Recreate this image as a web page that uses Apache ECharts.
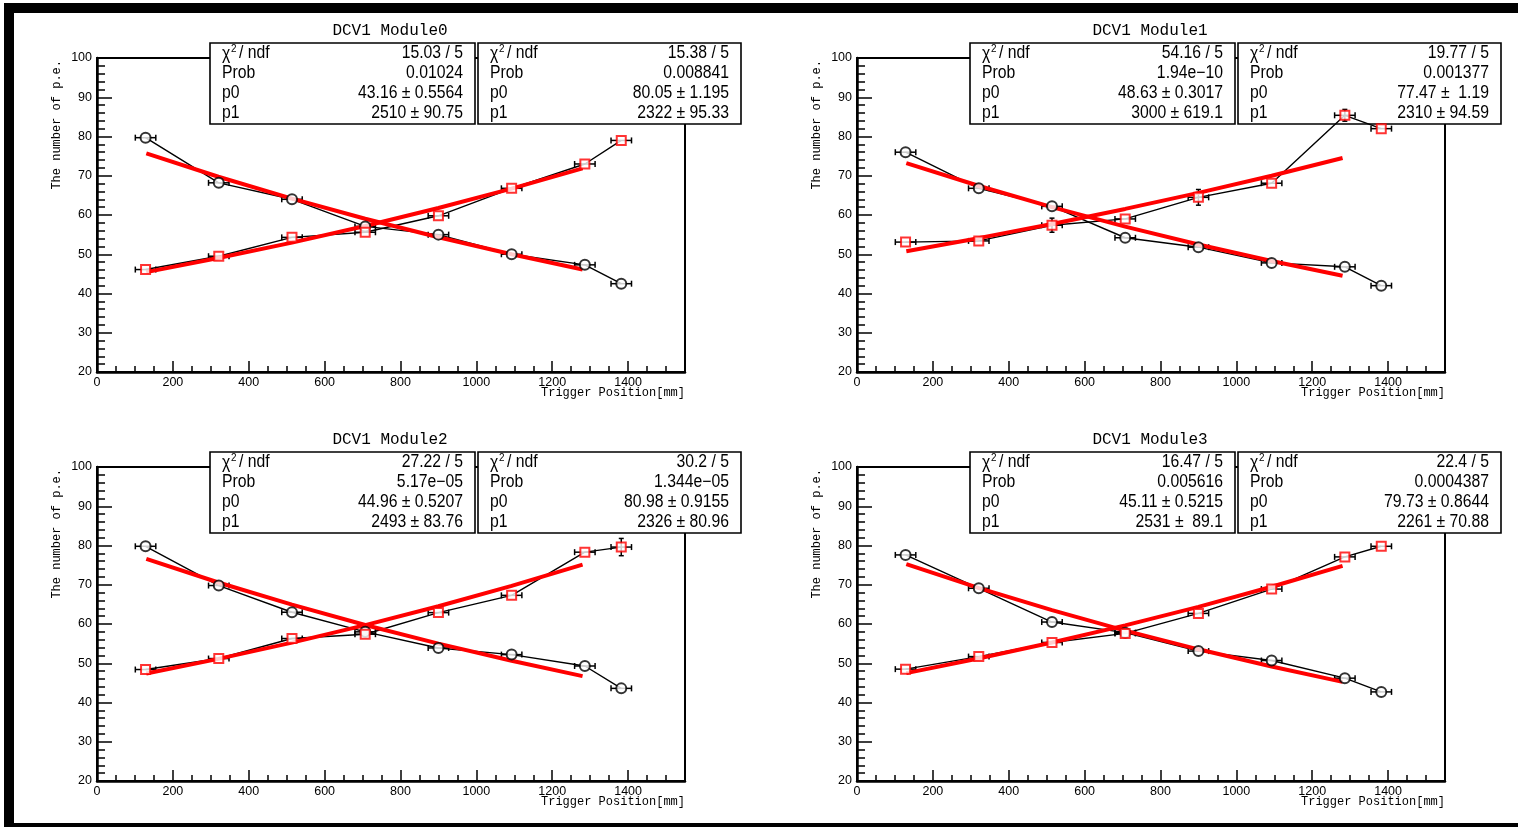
<!DOCTYPE html>
<html><head><meta charset="utf-8">
<script src="https://cdn.jsdelivr.net/npm/echarts@6/dist/echarts.min.js"></script>
<style>html,body{margin:0;padding:0;background:#fff}#c{width:1518px;height:827px}</style>
</head><body><div id="c"></div>
<script>
// ---- data ----
const titles = ['DCV1 Module0', 'DCV1 Module1', 'DCV1 Module2', 'DCV1 Module3'];
const xTitle = 'Trigger Position[mm]';
const yTitle = 'The number of p.e.';
const xPos = [128, 321, 514, 707, 900, 1093, 1286, 1382];
const xErr = [27, 27, 27, 27, 27, 27, 27, 27];
const fitX = [130, 320, 514, 707, 900, 1093, 1280];

const circ0 = [79.7, 68.2, 64.0, 57.1, 55.0, 50.0, 47.3, 42.5];
const circErr0 = [0.6, 0.6, 0.6, 0.7, 0.6, 0.5, 0.6, 0.5];
const sq0 = [46.1, 49.5, 54.3, 55.6, 59.8, 66.8, 73.0, 79.0];
const sqErr0 = [0.5, 0.5, 0.6, 0.6, 0.7, 0.7, 0.8, 0.8];
const fitInc0 = [45.45, 49.03, 52.97, 57.20, 61.77, 66.71, 71.87];
const fitDec0 = [75.69, 69.74, 64.16, 59.04, 54.33, 50.00, 46.13];

const circ1 = [76.0, 66.8, 62.2, 54.2, 51.8, 47.8, 46.8, 42.0];
const circErr1 = [0.6, 0.6, 0.9, 0.6, 0.6, 0.5, 0.6, 0.5];
const sq1 = [53.1, 53.4, 57.4, 59.0, 64.5, 68.1, 85.4, 82.0];
const sqErr1 = [0.5, 0.5, 1.8, 0.6, 2.0, 0.8, 1.5, 0.7];
const fitInc1 = [50.78, 54.10, 57.72, 61.55, 65.64, 70.00, 74.51];
const fitDec1 = [73.23, 67.45, 62.02, 57.04, 52.47, 48.27, 44.51];

const circ2 = [79.8, 69.8, 63.0, 58.0, 53.9, 52.2, 49.3, 43.6];
const circErr2 = [0.6, 0.6, 0.6, 0.8, 0.6, 0.6, 0.6, 0.5];
const sq2 = [48.4, 51.2, 56.3, 57.4, 62.9, 67.3, 78.3, 79.6];
const sqErr2 = [0.5, 0.5, 0.6, 0.7, 0.7, 0.8, 0.8, 2.2];
const fitInc2 = [47.37, 51.12, 55.25, 59.70, 64.51, 69.70, 75.13];
const fitDec2 = [76.58, 70.57, 64.92, 59.75, 55.00, 50.62, 46.71];

const circ3 = [77.6, 69.1, 60.5, 57.8, 53.1, 50.7, 46.2, 42.7];
const circErr3 = [0.6, 0.6, 0.6, 0.7, 0.6, 0.6, 0.6, 0.5];
const sq3 = [48.5, 51.7, 55.3, 57.6, 62.7, 68.9, 77.1, 79.8];
const sqErr3 = [0.5, 0.5, 0.6, 0.7, 0.7, 0.8, 0.8, 0.7];
const fitInc3 = [47.49, 51.19, 55.27, 59.65, 64.37, 69.48, 74.80];
const fitDec3 = [75.28, 69.21, 63.52, 58.32, 53.55, 49.17, 45.26];

const statLabels = ['Prob', 'p0', 'p1'];
const stats0a = ['15.03 / 5', '0.01024', '43.16 \u00b1 0.5564', '2510 \u00b1 90.75'];
const stats0b = ['15.38 / 5', '0.008841', '80.05 \u00b1 1.195', '2322 \u00b1 95.33'];
const stats1a = ['54.16 / 5', '1.94e\u221210', '48.63 \u00b1 0.3017', '3000 \u00b1 619.1'];
const stats1b = ['19.77 / 5', '0.001377', '77.47 \u00b1  1.19', '2310 \u00b1 94.59'];
const stats2a = ['27.22 / 5', '5.17e\u221205', '44.96 \u00b1 0.5207', '2493 \u00b1 83.76'];
const stats2b = ['30.2 / 5', '1.344e\u221205', '80.98 \u00b1 0.9155', '2326 \u00b1 80.96'];
const stats3a = ['16.47 / 5', '0.005616', '45.11 \u00b1 0.5215', '2531 \u00b1  89.1'];
const stats3b = ['22.4 / 5', '0.0004387', '79.73 \u00b1 0.8644', '2261 \u00b1 70.88'];

const xMin = 0, xMax = 1550, xStep = 200;
const yMin = 20, yMax = 100, yStep = 10;

// ---- build ----
const panels = [
  {title: titles[0], circ: circ0, circErr: circErr0, sq: sq0, sqErr: sqErr0, inc: fitInc0, dec: fitDec0, sa: stats0a, sb: stats0b},
  {title: titles[1], circ: circ1, circErr: circErr1, sq: sq1, sqErr: sqErr1, inc: fitInc1, dec: fitDec1, sa: stats1a, sb: stats1b},
  {title: titles[2], circ: circ2, circErr: circErr2, sq: sq2, sqErr: sqErr2, inc: fitInc2, dec: fitDec2, sa: stats2a, sb: stats2b},
  {title: titles[3], circ: circ3, circErr: circErr3, sq: sq3, sqErr: sqErr3, inc: fitInc3, dec: fitDec3, sa: stats3a, sb: stats3b}
];
const pos = [[97, 58], [857, 58], [97, 467], [857, 467]];
const PW = 588, PH = 314;
const SANS = "'Liberation Sans', Arial, sans-serif";
const MONO = "'Liberation Mono', 'Courier New', monospace";

function errRender(params, api) {
  const x = api.value(0), y = api.value(1), ex = api.value(2), ey = api.value(3);
  const L = api.coord([x - ex, y]), R = api.coord([x + ex, y]);
  const T = api.coord([x, y + ey]), B = api.coord([x, y - ey]);
  const st = {stroke: '#000', lineWidth: 1.5};
  const ch = [
    {type: 'line', shape: {x1: L[0], y1: L[1], x2: R[0], y2: R[1]}, style: st},
    {type: 'line', shape: {x1: L[0], y1: L[1] - 3, x2: L[0], y2: L[1] + 3}, style: st},
    {type: 'line', shape: {x1: R[0], y1: R[1] - 3, x2: R[0], y2: R[1] + 3}, style: st}
  ];
  if (B[1] - T[1] > 10) {
    ch.push({type: 'line', shape: {x1: T[0], y1: T[1], x2: B[0], y2: B[1]}, style: st});
    ch.push({type: 'line', shape: {x1: T[0] - 2.5, y1: T[1], x2: T[0] + 2.5, y2: T[1]}, style: st});
    ch.push({type: 'line', shape: {x1: B[0] - 2.5, y1: B[1], x2: B[0] + 2.5, y2: B[1]}, style: st});
  }
  return {type: 'group', children: ch};
}

const grids = [], xAxes = [], yAxes = [], series = [], graphics = [];

// black frame bands of the screenshot
graphics.push({type: 'rect', shape: {x: 4, y: 3, width: 1514, height: 10}, style: {fill: '#000'}, z: 100});
graphics.push({type: 'rect', shape: {x: 4, y: 3, width: 10, height: 824}, style: {fill: '#000'}, z: 100});
graphics.push({type: 'rect', shape: {x: 4, y: 823, width: 1514, height: 4}, style: {fill: '#000'}, z: 100});

function statBox(left, top, w, vals) {
  const h = 81;
  const ch = [{type: 'rect', shape: {x: 0, y: 0, width: w, height: h}, style: {fill: '#fff', stroke: '#000', lineWidth: 1.6}}];
  const rowY = [10.5, 30.5, 50.5, 70.5];
  const txt = (x, y, s, align, size) => ({type: 'text', x: x, y: y, scaleX: 0.9,
    style: {text: s, x: 0, y: 0, fill: '#000', font: (size || 17.5) + 'px ' + SANS, align: align, verticalAlign: 'middle'}});
  ch.push(txt(12, rowY[0] + 1, '\u03c7', 'left'));
  ch.push(txt(21, rowY[0] - 5, '2', 'left', 11));
  ch.push(txt(29, rowY[0], '/ ndf', 'left'));
  for (let i = 0; i < 3; i++) ch.push(txt(12, rowY[i + 1], statLabels[i], 'left'));
  for (let i = 0; i < 4; i++) ch.push(txt(w - 12, rowY[i], vals[i], 'right'));
  return {type: 'group', x: left, y: top, z: 50, children: ch};
}

panels.forEach((p, i) => {
  const [l, t] = pos[i];
  grids.push({left: l, top: t, width: PW, height: PH, show: true, borderColor: '#000', borderWidth: 2, backgroundColor: 'rgba(0,0,0,0)'});
  xAxes.push({gridIndex: i, type: 'value', min: xMin, max: xMax, interval: xStep,
    axisLine: {show: true, onZero: false, lineStyle: {color: '#000', width: 2.5}},
    axisTick: {show: true, inside: true, length: 11, lineStyle: {color: '#000', width: 1.5}},
    minorTick: {show: true, splitNumber: 4, length: 6, lineStyle: {color: '#000', width: 1.5}},
    splitLine: {show: false}, minorSplitLine: {show: false},
    axisLabel: {color: '#000', fontSize: 12.5, fontFamily: SANS, margin: 4, showMaxLabel: false, formatter: v => String(v)}});
  yAxes.push({gridIndex: i, type: 'value', min: yMin, max: yMax, interval: yStep,
    axisLine: {show: true, onZero: false, lineStyle: {color: '#000', width: 2.5}},
    axisTick: {show: true, inside: true, length: 15, lineStyle: {color: '#000', width: 1.5}},
    minorTick: {show: true, splitNumber: 5, length: 8, lineStyle: {color: '#000', width: 1.5}},
    splitLine: {show: false}, minorSplitLine: {show: false},
    axisLabel: {color: '#000', fontSize: 12.5, fontFamily: SANS, margin: 5, formatter: v => String(v)}});
  const ax = {xAxisIndex: i, yAxisIndex: i};
  const circData = xPos.map((x, k) => [x, p.circ[k]]);
  const sqData = xPos.map((x, k) => [x, p.sq[k]]);
  series.push(Object.assign({type: 'line', data: circData, showSymbol: false, symbol: 'none', lineStyle: {color: '#000', width: 1.4}, z: 2, silent: true}, ax));
  series.push(Object.assign({type: 'line', data: sqData, showSymbol: false, symbol: 'none', lineStyle: {color: '#000', width: 1.4}, z: 2, silent: true}, ax));
  series.push(Object.assign({type: 'custom', coordinateSystem: 'cartesian2d', renderItem: errRender, z: 3,
    data: xPos.map((x, k) => [x, p.circ[k], xErr[k], p.circErr[k]])}, ax));
  series.push(Object.assign({type: 'custom', coordinateSystem: 'cartesian2d', renderItem: errRender, z: 3,
    data: xPos.map((x, k) => [x, p.sq[k], xErr[k], p.sqErr[k]])}, ax));
  series.push(Object.assign({type: 'line', data: fitX.map((x, k) => [x, p.inc[k]]), symbol: 'none', lineStyle: {color: '#ff0000', width: 4}, z: 4}, ax));
  series.push(Object.assign({type: 'line', data: fitX.map((x, k) => [x, p.dec[k]]), symbol: 'none', lineStyle: {color: '#ff0000', width: 4}, z: 4}, ax));
  series.push(Object.assign({type: 'scatter', data: circData, symbol: 'emptyCircle', symbolSize: 10, itemStyle: {color: '#000', borderWidth: 1.6}, z: 5}, ax));
  series.push(Object.assign({type: 'scatter', data: sqData, symbol: 'emptyRect', symbolSize: 9, itemStyle: {color: '#ff0000', borderWidth: 1.6}, z: 5}, ax));

  graphics.push({type: 'text', x: l + 293, y: t - 27, style: {text: p.title, fill: '#000', font: '16px ' + MONO, align: 'center', verticalAlign: 'middle'}, z: 60});
  graphics.push({type: 'text', x: l - 40, y: t + 2, rotation: Math.PI / 2, style: {text: yTitle, fill: '#000', font: '12px ' + MONO, align: 'right', verticalAlign: 'middle'}, z: 60});
  graphics.push({type: 'text', x: l + PW, y: t + PH + 21, style: {text: xTitle, fill: '#000', font: '12px ' + MONO, align: 'right', verticalAlign: 'middle'}, z: 60});
  graphics.push(statBox(l + 113, t - 15, 265, p.sa));
  graphics.push(statBox(l + 381, t - 15, 263, p.sb));
});

const chart = echarts.init(document.getElementById('c'), null, {renderer: 'canvas'});
chart.setOption({
  backgroundColor: '#fff',
  animation: false,
  grid: grids, xAxis: xAxes, yAxis: yAxes, series: series, graphic: graphics
});
</script></body></html>
